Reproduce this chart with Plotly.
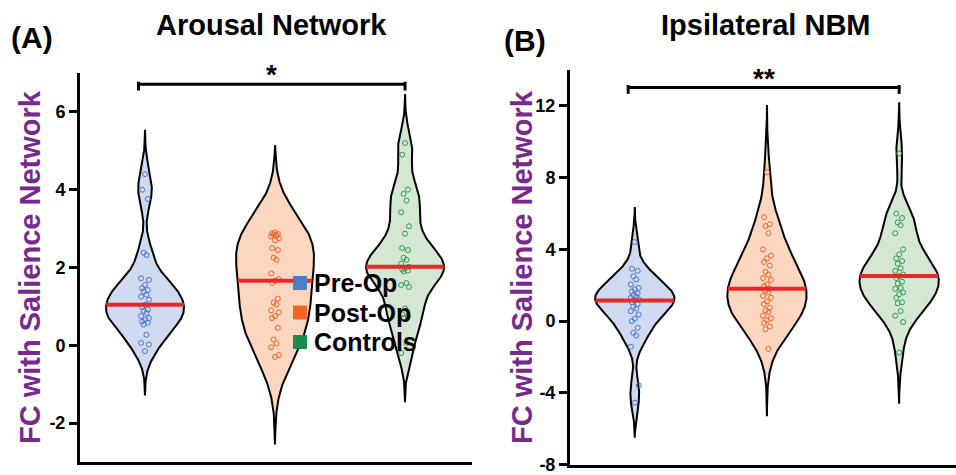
import numpy as np
import plotly.graph_objects as go

categories = ["Pre-Op", "Post-Op", "Controls"]

# Panel A: Arousal Network
a_pre = [4.4, 4.0, 3.76, 2.38, 2.32, 1.72, 1.68, 1.55, 1.47, 1.42, 1.38, 1.30, 1.25, 1.17,
         1.04, 0.98, 0.92, 0.88, 0.83, 0.75, 0.70, 0.66, 0.61, 0.58, 0.53, 0.27, 0.06, 0.02, -0.15]
a_post = [2.9, 2.88, 2.86, 2.85, 2.82, 2.8, 2.75, 2.7, 2.5, 2.45, 2.25, 2.2, 1.85, 1.7,
          1.66, 1.6, 1.2, 1.1, 1.05, 0.9, 0.85, 0.75, 0.7, 0.45, 0.15, 0.05, -0.05, -0.25, -0.3]
a_ctrl = [5.2, 4.9, 4.0, 3.89, 3.72, 3.42, 3.06, 2.87, 2.5, 2.45, 2.25, 2.2, 2.1,
          2.02, 1.98, 1.95, 1.92, 1.9, 1.6, 1.55, 1.5, 0.95, 0.8, 0.75, 0.7, 0.06, -0.2]

# Panel B: Ipsilateral NBM
b_pre = [4.41, 2.92, 2.8, 2.5, 2.33, 2.05, 1.85, 1.77, 1.65, 1.55, 1.45, 1.38, 1.3, 1.22,
         1.15, 1.05, 0.95, 0.8, 0.7, 0.56, 0.37, 0.13, 0.0, -0.37, -0.65, -0.8, -1.43, -3.59, -4.55]
b_post = [8.3, 5.8, 5.4, 5.3, 4.9, 4.0, 3.65, 3.5, 3.3, 3.1, 2.75, 2.6, 2.4, 2.3, 2.05, 1.95,
          1.81, 1.7, 1.6, 1.4, 1.3, 1.1, 0.95, 0.75, 0.6, 0.5, 0.3, 0.15, 0.05, -0.1, -0.3, -0.45, -1.55]
b_ctrl = [9.35, 6.0, 5.75, 5.5, 5.35, 4.9, 4.0, 3.72, 3.5, 3.35, 3.2, 2.95, 2.8, 2.6,
          2.51, 2.4, 2.2, 2.1, 1.85, 1.8, 1.6, 1.5, 1.3, 1.05, 1.0, 0.56, 0.3, -0.05, -1.75]

a_ticks = [-2, 0, 2, 4, 6]
a_ticktext = ["-2", "0", "2", "4", "6"]
b_ticks = [-8, -4, 0, 4, 8, 12]
b_ticktext = ["-8", "-4", "0", "4", "8", "12"]

panel_titles = ["Arousal Network", "Ipsilateral NBM"]
panel_letters = ["(A)", "(B)"]
y_title = "FC with Salience Network"
sig_labels = ["*", "**"]

# styling
fills = ["#cfd9f0", "#fdd6c0", "#d4e7d3"]
dot_colors = ["#4a78c8", "#ee6428", "#2f9a50"]
legend_colors = ["#4a7fc7", "#f26522", "#1f8a4c"]
median_color = "#e8292b"
purple = "#782a8c"
bws = {"a": [0.38, 0.75, 0.42], "b": [0.65, 1.25, 0.95]}
K = 3.0
HALF = 0.30
jitter = [0.0, -0.022, 0.022, -0.011, 0.011, -0.03, 0.03]
FONT = "Liberation Sans, Arial"

fig = go.Figure()


def add_violin(vals, pos, bw, fill, dot, xa, ya, name):
    v = np.asarray(vals, dtype=float)
    grid = np.linspace(v.min() - K * bw, v.max() + K * bw, 400)
    dens = np.exp(-0.5 * ((grid[:, None] - v[None, :]) / bw) ** 2).sum(axis=1)
    hw = HALF * dens / dens.max()
    xs = np.concatenate([pos - hw, (pos + hw)[::-1], [pos - hw[0]]])
    ys = np.concatenate([grid, grid[::-1], [grid[0]]])
    fig.add_trace(go.Scatter(x=xs, y=ys, mode="lines", fill="toself", fillcolor=fill,
                             line=dict(color="black", width=2), hoverinfo="skip", name=name,
                             showlegend=False, xaxis=xa, yaxis=ya))
    jx = [pos + jitter[i % len(jitter)] for i in range(len(v))]
    fig.add_trace(go.Scatter(x=jx, y=v, mode="markers", name=name,
                             marker=dict(symbol="circle-open", size=5, color=dot,
                                         line=dict(width=1, color=dot)),
                             showlegend=False, xaxis=xa, yaxis=ya))
    med = float(np.median(v))
    dm = np.exp(-0.5 * ((med - v) / bw) ** 2).sum()
    hm = HALF * dm / dens.max()
    fig.add_trace(go.Scatter(x=[pos - hm, pos + hm], y=[med, med], mode="lines",
                             line=dict(color=median_color, width=4), hoverinfo="skip",
                             showlegend=False, xaxis=xa, yaxis=ya))


for i, vals in enumerate([a_pre, a_post, a_ctrl]):
    add_violin(vals, i, bws["a"][i], fills[i], dot_colors[i], "x", "y", categories[i])
for i, vals in enumerate([b_pre, b_post, b_ctrl]):
    add_violin(vals, i, bws["b"][i], fills[i], dot_colors[i], "x2", "y2", categories[i])

tickfont = dict(family=FONT, size=18, color="black", weight="bold")
axcommon = dict(showline=True, linewidth=3, linecolor="black", showgrid=False,
                zeroline=False, mirror=False, automargin=False)
yax = dict(axcommon, ticks="outside", ticklen=8, tickwidth=2.5, tickcolor="black",
           tickfont=tickfont)
xax = dict(axcommon, showticklabels=False, ticks="")

fig.update_layout(
    width=956, height=475,
    margin=dict(l=0, r=0, t=0, b=0, autoexpand=False),
    paper_bgcolor="white", plot_bgcolor="white",
    showlegend=False,
    xaxis=dict(xax, domain=[80 / 956, 472 / 956], range=[-0.5, 2.515]),
    yaxis=dict(yax, domain=[13 / 475, 402 / 475], range=[-3, 7],
               tickvals=a_ticks, ticktext=a_ticktext),
    xaxis2=dict(xax, domain=[570 / 956, 1.0], range=[-0.49, 2.43], anchor="y2"),
    yaxis2=dict(yax, domain=[10 / 475, 405 / 475], range=[-8.02, 14], anchor="x2",
                tickvals=b_ticks, ticktext=b_ticktext),
)

# legend drawn as coloured squares + labels inside panel A
for i, c in enumerate(categories):
    cy = 283 + 29.5 * i
    fig.add_shape(type="rect", xref="paper", yref="paper",
                  x0=293 / 956, x1=307 / 956, y0=1 - (cy + 7) / 475, y1=1 - (cy - 7) / 475,
                  fillcolor=legend_colors[i], line=dict(width=0))
    fig.add_annotation(x=312 / 956, y=1 - cy / 475, xref="paper", yref="paper", text=c,
                       showarrow=False, xanchor="left", yanchor="middle",
                       font=dict(family=FONT, size=25, color="black", weight="bold"))

# significance brackets
brackets = [("x", "y", 6.71, 0.16, 0), ("x2", "y2", 13.02, 0.35, 1)]
for xr, yr, yb, tick, k in brackets:
    for (x0, y0, x1, y1) in [(-0.05, yb, 2.0, yb), (-0.05, yb - tick, -0.05, yb + tick * 0.4),
                             (2.0, yb - tick, 2.0, yb + tick * 0.4)]:
        fig.add_shape(type="line", xref=xr, yref=yr, x0=x0, y0=y0, x1=x1, y1=y1,
                      line=dict(color="black", width=3))
    fig.add_annotation(x=0.975, y=yb, xref=xr, yref=yr, text=sig_labels[k], showarrow=False,
                       yanchor="bottom", yshift=-8,
                       font=dict(family=FONT, size=28, color="black", weight="bold"))

title_font = dict(family=FONT, size=29, color="black", weight="bold")
for (cx, ty, lx, ly, t, l) in [(271, 25, 32, 38, panel_titles[0], panel_letters[0]),
                               (766, 25, 525, 40, panel_titles[1], panel_letters[1])]:
    fig.add_annotation(x=cx / 956, y=1 - ty / 475, xref="paper", yref="paper", text=t,
                       showarrow=False, xanchor="center", yanchor="middle", font=title_font)
    fig.add_annotation(x=lx / 956, y=1 - ly / 475, xref="paper", yref="paper", text=l,
                       showarrow=False, xanchor="center", yanchor="middle",
                       font=dict(title_font, size=30))

for cx in [30, 522]:
    fig.add_annotation(x=cx / 956, y=1 - 267 / 475, xref="paper", yref="paper", text=y_title,
                       textangle=-90, showarrow=False, xanchor="center", yanchor="middle",
                       font=dict(family=FONT, size=29, color=purple, weight="bold"))

fig.write_html("out.html")
